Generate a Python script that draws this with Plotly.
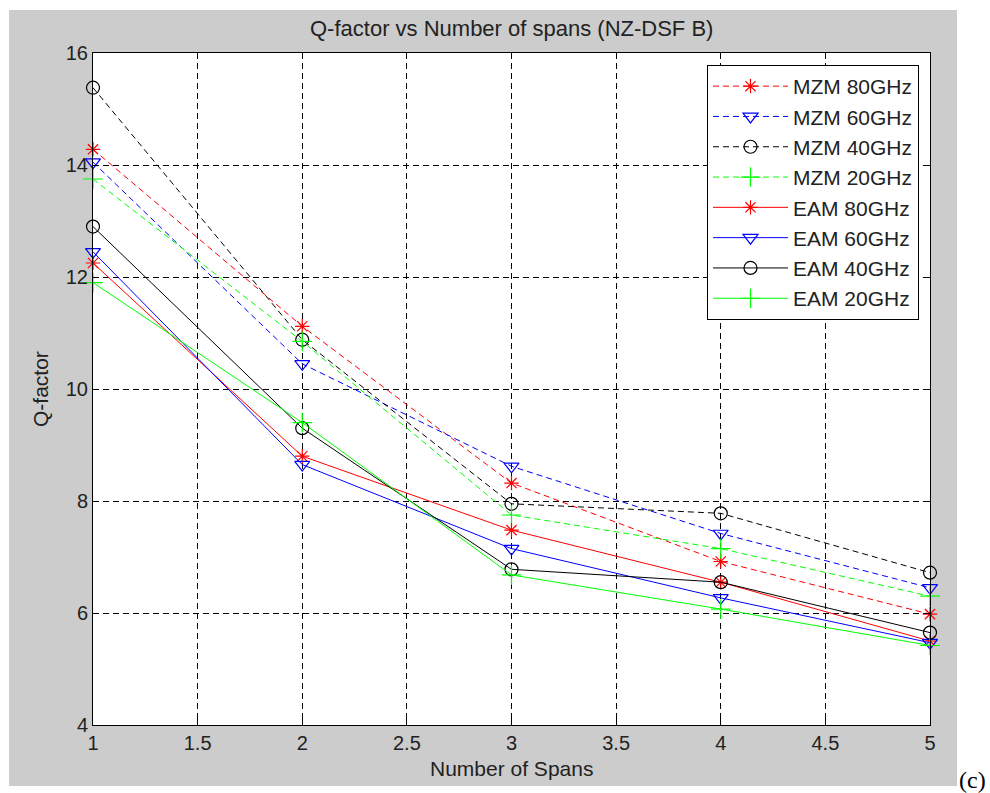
import plotly.graph_objects as go

# ---- data ----
spans = [1, 2, 3, 4, 5]
mzm_80 = [14.28, 11.12, 8.32, 6.92, 5.98]
mzm_60 = [14.05, 10.45, 8.62, 7.42, 6.45]
mzm_40 = [15.38, 10.88, 7.95, 7.78, 6.72]
mzm_20 = [13.75, 10.85, 7.75, 7.15, 6.30]
eam_80 = [12.25, 8.80, 7.48, 6.55, 5.50]
eam_60 = [12.45, 8.65, 7.15, 6.27, 5.47]
eam_40 = [12.90, 9.30, 6.78, 6.55, 5.65]
eam_20 = [11.90, 9.40, 6.68, 6.07, 5.42]

names = ["MZM 80GHz", "MZM 60GHz", "MZM 40GHz", "MZM 20GHz",
         "EAM 80GHz", "EAM 60GHz", "EAM 40GHz", "EAM 20GHz"]
values = [mzm_80, mzm_60, mzm_40, mzm_20, eam_80, eam_60, eam_40, eam_20]

x_ticks = [1, 1.5, 2, 2.5, 3, 3.5, 4, 4.5, 5]
x_tick_text = ["1", "1.5", "2", "2.5", "3", "3.5", "4", "4.5", "5"]
y_ticks = [4, 6, 8, 10, 12, 14, 16]

# ---- styles ----
colors = ["#ff0000", "#0000ff", "#000000", "#00ff00"] * 2
symbols = ["asterisk-open", "triangle-down-open", "circle-open", "cross-thin-open"] * 2
sizes = [12, 13, 13, 14] * 2
dashes = ["dash"] * 4 + ["solid"] * 4

NARROW = "Liberation Sans Narrow, Arial Narrow, Liberation Sans, Arial, sans-serif"
REG = "Arial, Liberation Sans, sans-serif"

fig = go.Figure()
for name, vals, c, s, sz, d in zip(names, values, colors, symbols, sizes, dashes):
    fig.add_trace(go.Scatter(
        x=spans, y=vals, name=name, mode="lines+markers",
        line=dict(color=c, width=1, dash="6px,4px" if d == "dash" else "solid"),
        marker=dict(symbol=s, size=sz, color=c, line=dict(color=c, width=1.2)),
        cliponaxis=False,
    ))

W, H = 990, 793
L, R, T, B = 93, 60, 53, 68
pw, ph = W - L - R, H - T - B

def px_x(p):
    return (p - L) / pw

def px_y(p):
    return (H - B - p) / ph

shapes = [
    dict(type="rect", xref="paper", yref="paper", layer="below",
         x0=px_x(9), x1=px_x(957), y0=px_y(786), y1=px_y(10),
         fillcolor="#cccccc", line=dict(width=0)),
    dict(type="rect", xref="paper", yref="paper", layer="below",
         x0=0, x1=1, y0=0, y1=1, fillcolor="white", line=dict(width=0)),
]

annotations = [
    dict(text="Q-factor vs Number of spans (NZ-DSF B)", xref="paper", yref="paper",
         x=0.5, y=px_y(29), xanchor="center", yanchor="middle", showarrow=False,
         font=dict(family=NARROW, size=22, color="#222222")),
    dict(text="Number of Spans", xref="paper", yref="paper",
         x=0.5, y=px_y(768), xanchor="center", yanchor="middle", showarrow=False,
         font=dict(family=NARROW, size=21, color="#222222")),
    dict(text="Q-factor", xref="paper", yref="paper", textangle=-90,
         x=px_x(40), y=0.5, xanchor="center", yanchor="middle", showarrow=False,
         font=dict(family=NARROW, size=21, color="#222222")),
    dict(text="(c)", xref="paper", yref="paper",
         x=px_x(987), y=px_y(780), xanchor="right", yanchor="middle", showarrow=False,
         borderpad=0,
         font=dict(family="Liberation Serif, Times New Roman, serif", size=24, color="#000000")),
]

axis_common = dict(
    showline=True, linecolor="black", linewidth=1, mirror="ticks",
    ticks="inside", ticklen=6, tickcolor="black",
    showgrid=True, gridcolor="black", gridwidth=1, griddash="6px,4px",
    zeroline=False,
    tickfont=dict(family=NARROW, size=20, color="#222222"),
)

fig.update_layout(
    width=W, height=H,
    margin=dict(l=L, r=R, t=T, b=B),
    paper_bgcolor="white", plot_bgcolor="white",
    shapes=shapes, annotations=annotations,
    xaxis=dict(range=[1, 5], tickvals=x_ticks, ticktext=x_tick_text, **axis_common),
    yaxis=dict(range=[4, 16], tickvals=y_ticks, **axis_common),
    legend=dict(x=px_x(919), y=px_y(65), xanchor="right", yanchor="top",
                bgcolor="white", bordercolor="black", borderwidth=1,
                font=dict(family=REG, size=21, color="#222222"),
                itemwidth=75, tracegroupgap=0),
    showlegend=True,
)

fig.write_html("out.html")
